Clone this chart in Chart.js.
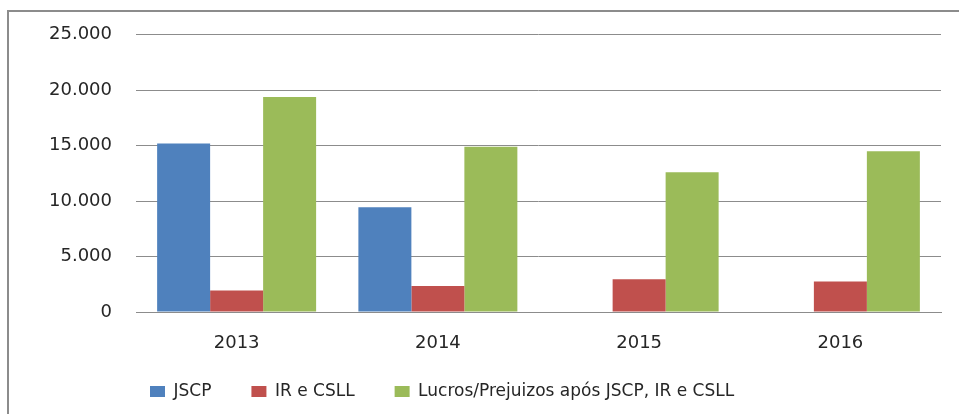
<!DOCTYPE html>
<html>
<head>
<meta charset="utf-8">
<script src="https://cdn.jsdelivr.net/npm/chart.js@4/dist/chart.umd.min.js"></script>
<style>
  html, body { margin: 0; padding: 0; background: #fff; }
  #wrap { position: relative; width: 959px; height: 414px; overflow: hidden; }
  #frame { position: absolute; left: 7px; top: 10px; width: 1000px; height: 500px;
           border-left: 2px solid #8c8c8c; border-top: 2px solid #8c8c8c; }
  #box { position: absolute; left: 0; top: 0; width: 959px; height: 414px; }
</style>
</head>
<body>
<div id="wrap">
  <div id="frame"></div>
  <div id="box"><canvas id="c"></canvas></div>
</div>
<script>
const categories = ['2013', '2014', '2015', '2016'];
const seriesNames = ['JSCP', 'IR e CSLL', 'Lucros/Prejuizos após JSCP, IR e CSLL'];
const jscp = [15200, 9450, null, null];
const irCsll = [1950, 2350, 2950, 2750];
const lucros = [19400, 14900, 12600, 14500];
const yTickLabels = ['0', '5.000', '10.000', '15.000', '20.000', '25.000'];

const colors = ['#4F81BD', '#C0504D', '#9BBB59'];
const font = 'DejaVu Sans';

// place the bottom legend where the reference has it
const legendPlace = {
  id: 'legendPlace',
  afterLayout(chart) {
    const lg = chart.legend;
    if (!lg) return;
    const w = lg.right - lg.left;
    lg.left = 110;
    lg.right = lg.left + w;
    lg.top = 343;
    lg.bottom = chart.height;
    lg.height = lg.bottom - lg.top;
  }
};

new Chart(document.getElementById('c'), {
  type: 'bar',
  data: {
    labels: categories,
    datasets: [
      { label: seriesNames[0], data: jscp, backgroundColor: colors[0] },
      { label: seriesNames[1], data: irCsll, backgroundColor: colors[1] },
      { label: seriesNames[2], data: lucros, backgroundColor: colors[2] }
    ]
  },
  plugins: [legendPlace],
  options: {
    responsive: true,
    maintainAspectRatio: false,
    animation: false,
    datasets: { bar: { categoryPercentage: 0.79, barPercentage: 1.0, borderWidth: 0 } },
    layout: { padding: { left: 30, right: 18, top: 32, bottom: 0 } },
    plugins: {
      tooltip: { enabled: false },
      legend: {
        position: 'bottom',
        align: 'start',
        maxHeight: 52,
        labels: {
          boxWidth: 15,
          boxHeight: 11,
          padding: 40,
          color: '#262626',
          font: { family: font, size: 17 }
        }
      }
    },
    scales: {
      x: {
        grid: { display: false },
        border: { display: true, color: '#8c8c8c', width: 1 },
        ticks: { color: '#262626', padding: 13, font: { family: font, size: 18 } },
        afterFit: (s) => { s.height = 50; }
      },
      y: {
        min: 0,
        max: 25000,
        grid: { color: '#8c8c8c', lineWidth: 1, drawTicks: false },
        border: { display: false },
        ticks: {
          stepSize: 5000,
          padding: 24,
          color: '#262626',
          font: { family: font, size: 18 },
          callback: (v, i) => yTickLabels[i]
        },
        afterFit: (s) => { s.width = 106; }
      }
    }
  }
});
</script>
</body>
</html>
